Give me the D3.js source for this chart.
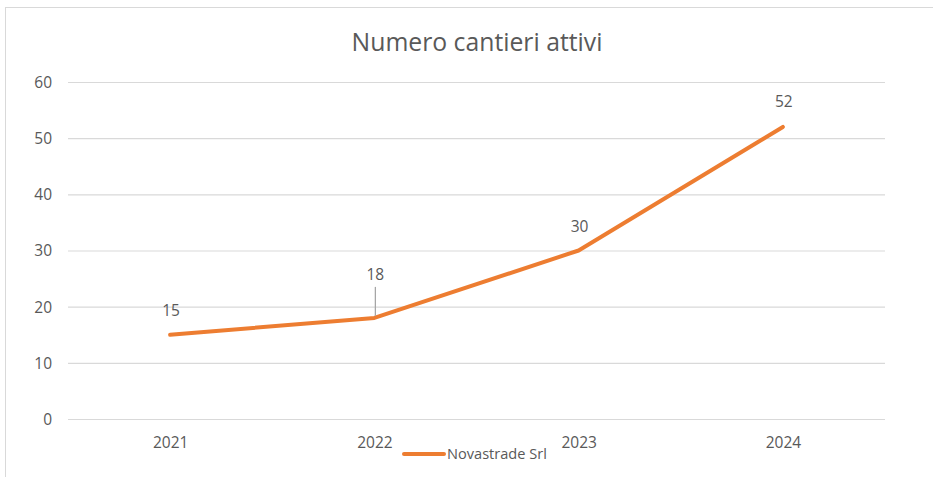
<!DOCTYPE html>
<html><head><meta charset="utf-8">
<script src="https://cdn.jsdelivr.net/npm/d3@7"></script>
<style>html,body{margin:0;padding:0;background:#fff;}svg{display:block;}</style>
</head><body>
<svg id="c" width="933" height="477"></svg>
<script>
const categories = ["2021","2022","2023","2024"];
const values = [15,18,30,52];
const yTicks = [0,10,20,30,40,50,60];
const seriesName = "Novastrade Srl";
const title = "Numero cantieri attivi";

(function(){
const svg = d3.select("#c");
const font = "'Open Sans', sans-serif";
const grey = "#595959";
// fit text to a target width
function fit(sel, w){
  const n = sel.node(); const fs = +sel.attr("font-size");
  const L = n.getComputedTextLength(); sel.attr("font-size", fs*w/L);
}
svg.append("rect").attr("x",5.5).attr("y",7.5).attr("width",940).attr("height",480)
  .attr("fill","#fff").attr("stroke","#d9d9d9").attr("stroke-width",1);

const pl=68, pr=885, pt=82, pb=419;
const x = d3.scalePoint().domain(categories).range([pl,pr]).padding(0.5);
const y = d3.scaleLinear().domain([0,60]).range([pb,pt]);

const t = svg.append("text").attr("x",477).attr("y",51).attr("text-anchor","middle")
  .attr("font-family",font).attr("font-size",20).attr("fill",grey).text(title);
fit(t,251);

const gy = svg.append("g").attr("transform",`translate(${pl},0)`)
  .call(d3.axisLeft(y).tickValues(yTicks).tickSize(-(pr-pl)).tickFormat(d3.format("d")));
gy.select(".domain").remove();
gy.selectAll(".tick line").attr("stroke","#d9d9d9").attr("stroke-width",1.2);
gy.selectAll(".tick text").attr("x",-16).attr("dy","0.35em").attr("fill",grey).attr("font-family",font).attr("font-size",15.5);

const gx = svg.append("g").attr("transform",`translate(0,${pb})`)
  .call(d3.axisBottom(x).tickSize(0));
gx.select(".domain").remove();
gx.selectAll(".tick text").attr("dy",0).attr("y",29).attr("fill",grey).attr("font-family",font).attr("font-size",15.5);

const line = d3.line().x((d,i)=>x(categories[i])).y(d=>y(d));
svg.append("path").datum(values).attr("d",line).attr("fill","none")
  .attr("stroke","#ED7D31").attr("stroke-width",4).attr("stroke-linejoin","round").attr("stroke-linecap","round");

svg.append("line").attr("x1",x("2022")+1).attr("x2",x("2022")+1)
  .attr("y1",y(18)-31).attr("y2",y(18)-2).attr("stroke","#a6a6a6").attr("stroke-width",1.3);

const labelOffsets = [-19,-38,-19,-20];
svg.selectAll(".lbl").data(values).enter().append("text")
  .attr("x",(d,i)=>x(categories[i])+1).attr("y",(d,i)=>y(d)+labelOffsets[i])
  .attr("text-anchor","middle").attr("font-family",font).attr("font-size",15.5).attr("fill",grey)
  .text(d=>d);

svg.append("line").attr("x1",404).attr("x2",444).attr("y1",454).attr("y2",454)
  .attr("stroke","#ED7D31").attr("stroke-width",4).attr("stroke-linecap","round");
const lt = svg.append("text").attr("x",447).attr("y",459).attr("font-family",font).attr("font-size",14)
  .attr("fill",grey).text(seriesName);
fit(lt,100);
})();
</script>
</body></html>
